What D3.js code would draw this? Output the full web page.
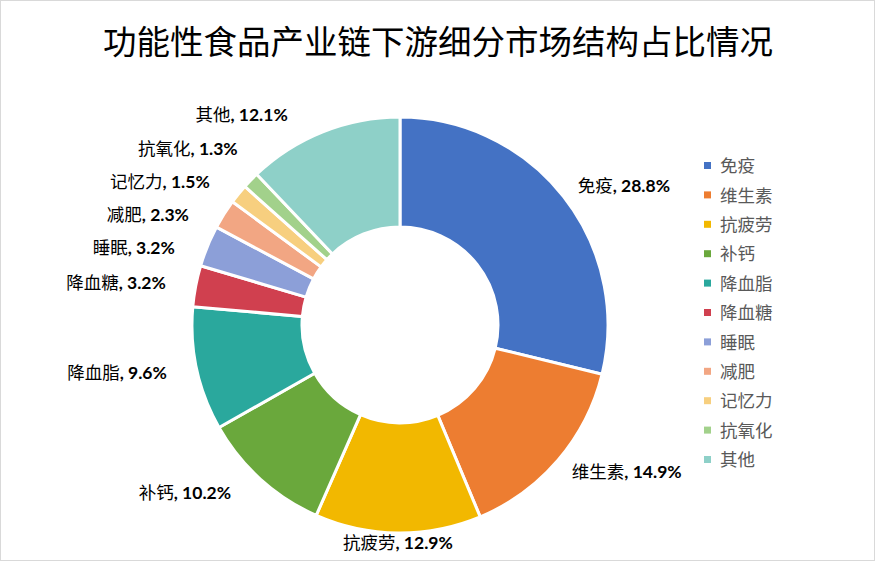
<!DOCTYPE html>
<html>
<head>
<meta charset="utf-8">
<script src="https://cdn.jsdelivr.net/npm/d3@7"></script>
<style>
  html, body { margin: 0; padding: 0; background: #fff; }
  svg { display: block; }
</style>
</head>
<body>
<svg id="chart" width="875" height="561"></svg>
<script>
const categories = ['免疫', '维生素', '抗疲劳', '补钙', '降血脂', '降血糖', '睡眠', '减肥', '记忆力', '抗氧化', '其他'];
const shares = [28.8, 14.9, 12.9, 10.2, 9.6, 3.2, 3.2, 2.3, 1.5, 1.3, 12.1];
const colors = ['#4472C4', '#ED7D31', '#F2B800', '#6AA83C', '#2AA89D', '#D0404F', '#8C9FD8', '#F2A683', '#F7CF7F', '#A2D18B', '#8ED0C8'];
const title = '功能性食品产业链下游细分市场结构占比情况';

const svg = d3.select('#chart');
const W = 875, H = 561;

// frame
svg.append('rect')
    .attr('x', 0.5).attr('y', 0.5)
    .attr('width', W - 1).attr('height', H - 1)
    .attr('fill', '#fff').attr('stroke', '#d9d9d9');

svg.append('text')
    .attr('x', 438).attr('y', 54)
    .attr('text-anchor', 'middle')
    .style('font-family', '"Noto Sans CJK SC", sans-serif')
    .style('font-size', '33.5px')
    .style('fill', '#000')
    .text(title);

const cx = 400, cy = 325;
const outerR = 208, innerR = 98;

const data = categories.map((c, i) => ({ name: c, value: shares[i], color: colors[i] }));

const pie = d3.pie().value(d => d.value).sort(null);
const arc = d3.arc().innerRadius(innerR).outerRadius(outerR);
const arcs = pie(data);

const g = svg.append('g').attr('transform', `translate(${cx},${cy})`);

g.selectAll('path')
    .data(arcs)
    .enter()
    .append('path')
    .attr('d', arc)
    .attr('fill', d => d.data.color)
    .attr('stroke', '#fff')
    .attr('stroke-width', 3)
    .attr('stroke-linejoin', 'round');

// labels: anchor at mid angle just outside the ring, then spread left ones apart
const labelR = outerR + 18;
const labels = arcs.map(d => {
    const a = (d.startAngle + d.endAngle) / 2;
    const x = Math.sin(a) * labelR;
    const y = -Math.cos(a) * labelR;
    let anchor = x < 0 ? 'end' : 'start';
    if (Math.abs(Math.sin(a)) < 0.2) anchor = 'middle';
    return { d, a, x, y, anchor, left: x < 0 && anchor !== 'middle' };
});

// push left labels apart vertically
const minGap = 33;
const left = labels.filter(l => l.left).sort((p, q) => p.y - q.y);
for (let iter = 0; iter < 300; iter++) {
    let moved = false;
    for (let i = 1; i < left.length; i++) {
        const diff = left[i].y - left[i - 1].y;
        if (diff < minGap - 0.01) {
            const push = (minGap - diff) / 2;
            left[i].y += push;
            left[i - 1].y -= push;
            moved = true;
        }
    }
    if (!moved) break;
}
left.forEach(l => {
    const dy = l.y;
    const rr = labelR + 12;
    if (Math.abs(dy) < rr) {
        const hx = -Math.sqrt(rr * rr - dy * dy);
        l.x = Math.min(l.x, hx);
    }
});
// keep the bottom label inside the frame
labels.forEach(l => {
    if (l.y > H - cy - 18) l.y = H - cy - 18;
});

const lab = g.selectAll('text.lab')
    .data(labels)
    .enter()
    .append('text')
    .attr('class', 'lab')
    .attr('x', l => l.x)
    .attr('y', l => l.y)
    .attr('dy', '0.35em')
    .attr('text-anchor', l => l.anchor)
    .style('font-size', '17.5px')
    .style('fill', '#000');

lab.append('tspan')
    .style('font-family', '"Noto Sans CJK SC", sans-serif')
    .text(l => l.d.data.name);
lab.append('tspan')
    .style('font-family', 'Lato, "Open Sans", sans-serif')
    .style('font-weight', 'bold')
    .text(l => ', ' + l.d.data.value.toFixed(1) + '%');

// legend
const legend = svg.append('g').attr('transform', 'translate(704,166)');
const step = 29.4;
const item = legend.selectAll('g')
    .data(data)
    .enter()
    .append('g')
    .attr('transform', (d, i) => `translate(0,${i * step})`);

item.append('rect')
    .attr('x', 0).attr('y', -4)
    .attr('width', 7).attr('height', 7)
    .attr('fill', d => d.color);

item.append('text')
    .attr('x', 16).attr('y', 0)
    .attr('dy', '0.35em')
    .style('font-family', '"Noto Sans CJK SC", sans-serif')
    .style('font-size', '17.5px')
    .style('fill', '#595959')
    .text(d => d.name);
</script>
</body>
</html>
